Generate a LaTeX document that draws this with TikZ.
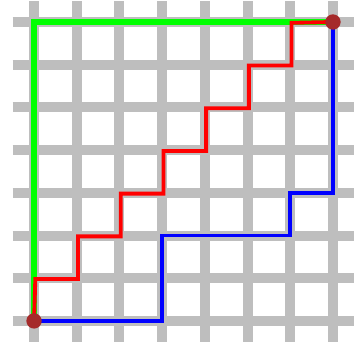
\documentclass[tikz,border=0pt]{standalone}
\definecolor{gridgray}{RGB}{190,190,190}
\definecolor{dotbrown}{RGB}{165,42,42}
\tikzset{
  gridline/.style={draw=gridgray, line width=0.234cm},
  greenpath/.style={draw={rgb,255:red,0;green,255;blue,0}, line width=0.12cm},
  redpath/.style={draw=red, line width=0.09cm},
  bluepath/.style={draw=blue, line width=0.09cm},
  enddot/.style={circle, fill=dotbrown, inner sep=0pt, minimum size=0.36cm}
}
\begin{document}
\begin{tikzpicture}
\useasboundingbox (-0.797,-0.49) rectangle (7.68,7.515);
\foreach \i in {0,...,7} {
  \draw[gridline] (\i,-0.5) -- (\i,7.5);
  \draw[gridline] (-0.5,\i) -- (7.5,\i);
}
\coordinate (s) at (0,0);
\coordinate (t) at (7,7);
\draw[greenpath] (s) -- (0,7) -- (t);
\draw[redpath, shift={(0.03,-0.02)}] (s) -- (0,1) -- (1,1) -- (1,2) -- (2,2) -- (2,3) -- (3,3) -- (3,4) -- (4,4) -- (4,5) -- (5,5) -- (5,6) -- (6,6) -- (6,7) -- (t);
\draw[bluepath] (s) -- (3,0) -- (3,2) -- (6,2) -- (6,3) -- (7,3) -- (t);
\node[enddot] (a) at (s) {};
\node[enddot] (b) at (t) {};
\end{tikzpicture}
\end{document}
